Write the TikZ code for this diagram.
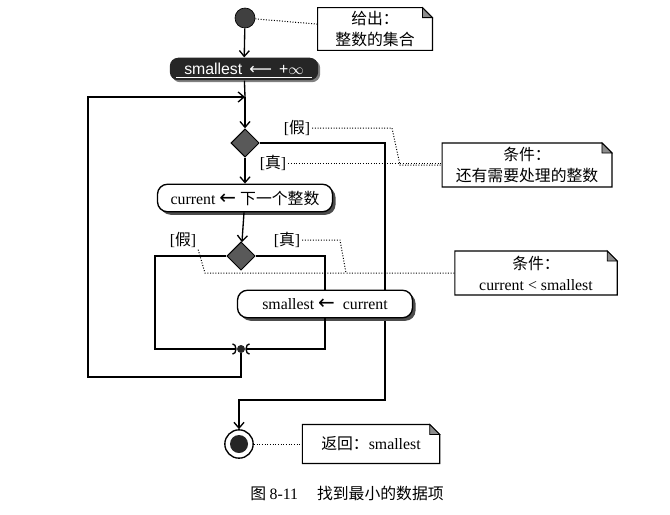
\documentclass[tikz,border=0pt]{standalone}
\usepackage{fontspec}
\setmainfont{Liberation Serif}
\newfontfamily\cjk{Noto Sans CJK SC}
\newfontfamily\sansfont{Liberation Sans}
\newfontfamily\arrowfont{DejaVu Sans}
\newcommand{\getsarrow}{{\arrowfont\fontsize{12}{12}\selectfont ←}}
\usetikzlibrary{shapes.geometric,arrows.meta,shadows,backgrounds}

\tikzset{
  line/.style={draw, line width=0.8pt},
  flow/.style={line, -{Straight Barb[length=3.5pt,width=6pt]}},
  joinflow/.style={line, -{Arc Barb[length=2.5pt,width=7pt]}},
  dots/.style={draw, densely dotted, line width=0.6pt},
  action/.style={draw, line width=0.8pt, rounded corners=6pt, fill=white,
    minimum width=105pt, minimum height=16.5pt, inner sep=1pt,
    drop shadow={shadow xshift=1.8pt, shadow yshift=-1.8pt, fill=black!70, opacity=1}},
  initbox/.style={rounded corners=5pt, fill=black!85, text=white,
    minimum width=89pt, minimum height=13.5pt, inner sep=1pt, font=\sansfont\fontsize{9.5}{11}\selectfont,
    drop shadow={shadow xshift=1.2pt, shadow yshift=-1.2pt, fill=black!50, opacity=1}},
  decision/.style={diamond, draw, line width=0.6pt, fill=black!65,
    minimum width=17pt, minimum height=17pt, inner sep=0pt},
  startdot/.style={circle, draw, fill=black!75, minimum size=12pt, inner sep=0pt},
  mergedot/.style={circle, fill=black!85, minimum size=4.8pt, inner sep=0pt},
  enddot/.style={circle, draw, line width=0.8pt, fill=white, minimum size=17pt, inner sep=0pt,
    path picture={\fill[black!85] (path picture bounding box.center) circle (5.4pt);}},
  note/.style={align=center, inner sep=2pt, font=\cjk\fontsize{9.5}{12.5}\selectfont},
  guard/.style={inner sep=1pt}
}

% note outline with folded corner
\newcommand{\notefold}[1]{%
  \draw[line width=0.7pt] (#1.north west) -- ([xshift=-6pt]#1.north east)
    -- ([yshift=-6pt]#1.north east) -- (#1.south east) -- (#1.south west) -- cycle;
  \filldraw[line width=0.5pt, fill=black!45] ([xshift=-6pt]#1.north east)
    -- ([xshift=-6pt,yshift=-6pt]#1.north east) -- ([yshift=-6pt]#1.north east) -- cycle;
}

\begin{document}
\begin{tikzpicture}[x=0.6pt, y=-0.6pt, font=\fontsize{9.5}{11.5}\selectfont]
  \useasboundingbox (0,0) rectangle (670,514);

  % activity nodes
  \node[startdot] (start) at (245,18) {};
  \node[initbox] (init) at (244,69) {smallest \,{\arrowfont ⟵}\, +$\infty$};
  \draw[white, line width=0.5pt] ([xshift=4pt,yshift=1.8pt]init.south west) -- ([xshift=-4pt,yshift=1.8pt]init.south east);
  \coordinate (join) at (245,97);
  \node[decision] (more) at (245,143) {};
  \node[action] (next) at (245,198) {current \getsarrow\ {\cjk 下一个整数}};
  \node[decision] (less) at (241,256) {};
  \node[action] (keep) at (325,304) {smallest \getsarrow\ \ current};
  \node[mergedot] (merge) at (241,349) {};
  \node[enddot] (stop) at (239,444) {};

  % guards
  \node[guard] (nomore) at (297,128) {[{\cjk 假}]};
  \node[guard] (yesmore) at (273,163) {[{\cjk 真}]};
  \node[guard] (noless) at (183,240) {[{\cjk 假}]};
  \node[guard] (yesless) at (287,240) {[{\cjk 真}]};

  % notes
  \node[note, minimum width=68.5pt, minimum height=23pt] (given) at (375,29) {给出：\\整数的集合};
  \node[note, minimum width=101.5pt, minimum height=26pt] (cond1) at (527,165) {条件：\\还有需要处理的整数};
  \node[note, minimum width=97pt, minimum height=26pt] (cond2) at (536,273) {条件：\\{\rmfamily current < smallest}};
  \node[note, minimum width=82pt, minimum height=23pt] (result) at (371,444) {返回：{\rmfamily smallest}};
  \notefold{given}
  \notefold{cond1}
  \notefold{cond2}
  \notefold{result}

  % control flow
  \coordinate (exitturn) at (385,400);
  \coordinate (lowleft) at (155,349);
  \coordinate (backturn) at (88,377);
  \begin{scope}[on background layer]
    \draw[flow] (more.east) -| (exitturn) -| (stop);
  \end{scope}
  \draw[flow] (start) -- (init);
  \draw[line] (init) -- (join);
  \draw[flow] (join) -- (more);
  \draw[flow] (more) -- (next);
  \draw[flow] (next) -- (less);
  \draw[line] (less.east) -| (keep.north);
  \draw[joinflow] (keep.south) |- (merge);
  \draw[joinflow] (less.west) -| (lowleft) -- (merge);
  \draw[flow] (merge) |- (backturn) |- (join);

  % note links
  \draw[dots] (start) -- (given);
  \draw[dots] (nomore.east) -- (392,128) -- (400,165) -- (cond1.west);
  \draw[dots] (yesmore.east) -- (yesmore.east -| cond1.west);
  \draw[dots] (yesless.east) -- (340,240) -- (346,273) -- (cond2.west);
  \draw[dots] (noless.south east) -- (205,273) -- (346,273);
  \draw[dots] (stop) -- (result);

  \node (caption) at (347,493) {\cjk 图 {\rmfamily 8-11}\hspace{1.2em}找到最小的数据项};
\end{tikzpicture}
\end{document}
